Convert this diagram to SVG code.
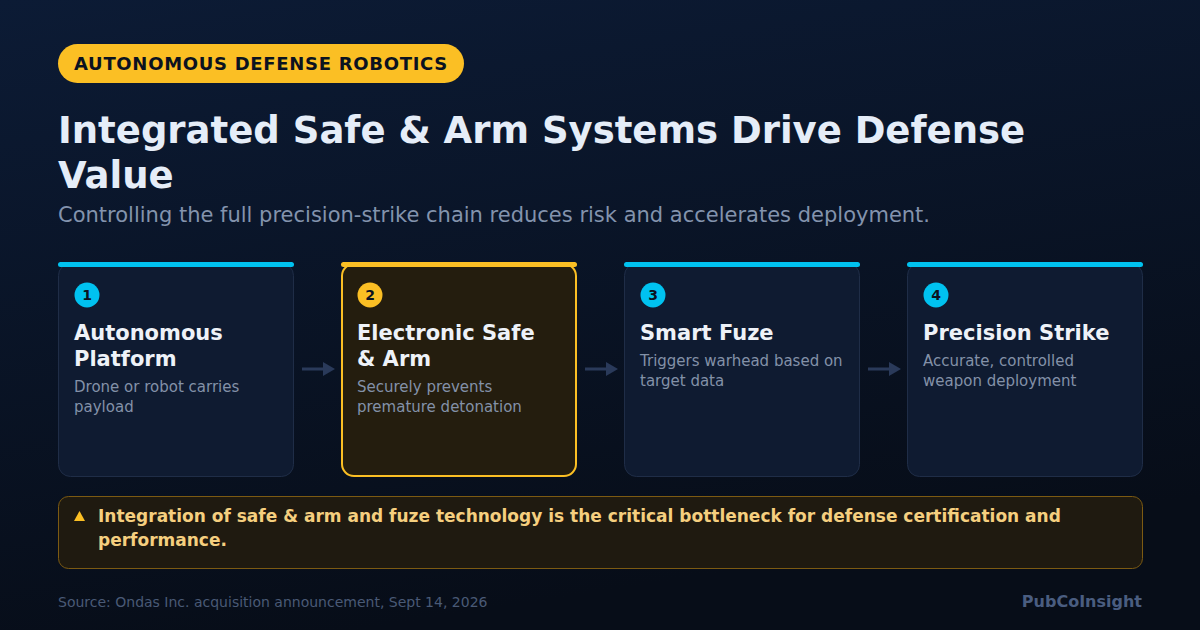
<svg xmlns="http://www.w3.org/2000/svg" width="1200" height="630" viewBox="0 0 1200 630">
<defs>
<linearGradient id="bg" x1="0" y1="0" x2="0.3" y2="1">
<stop offset="0" stop-color="#0c1b35"/>
<stop offset="1" stop-color="#070d18"/>
</linearGradient>
<marker id="ah" viewBox="0 0 12 14" refX="0" refY="7" markerWidth="12" markerHeight="14" markerUnits="userSpaceOnUse" orient="auto">
<path d="M0,0 L12,7 L0,14 Z" fill="#2a3a5a"/>
</marker>
</defs>
<style>
text{font-family:"DejaVu Sans","Liberation Sans",sans-serif}
.card{fill:#0f1b31;stroke:#1f2d47;stroke-width:1}
.hl{fill:#241d0e;stroke:#fbbf24;stroke-width:2}
.bar{fill:#00c2f0}
.num{font-size:14px;font-weight:bold;fill:#0b1220;text-anchor:middle}
.ct{font-size:21px;font-weight:bold;fill:#eef2f8}
.cd{font-size:15px;fill:#8391a8}
.conn{stroke:#2a3a5a;stroke-width:3;fill:none}
</style>
<rect width="1200" height="630" fill="url(#bg)"/>
<g id="badge">
<rect x="58" y="44" width="406" height="39" rx="19.5" fill="#fbbf24"/>
<text x="74" y="70" font-size="18" font-weight="bold" fill="#0b1220" letter-spacing="0.7">AUTONOMOUS DEFENSE ROBOTICS</text>
</g>
<g id="header">
<text x="58" y="143" font-size="37" font-weight="bold" fill="#e5edf8">Integrated Safe &amp; Arm Systems Drive Defense</text>
<text x="58" y="188" font-size="37" font-weight="bold" fill="#e5edf8">Value</text>
<text x="58" y="222" font-size="21" fill="#8393ad">Controlling the full precision-strike chain reduces risk and accelerates deployment.</text>
</g>
<g id="connectors">
<line class="conn" x1="302" y1="369" x2="323" y2="369" marker-end="url(#ah)"/>
<line class="conn" x1="585" y1="369" x2="606" y2="369" marker-end="url(#ah)"/>
<line class="conn" x1="868" y1="369" x2="889" y2="369" marker-end="url(#ah)"/>
</g>
<g id="node1">
<rect class="card" x="58.5" y="263.5" width="235" height="213" rx="12"/>
<rect class="bar" x="58" y="262" width="236" height="5" rx="2.5"/>
<circle cx="87" cy="295" r="12.5" fill="#00c2f0"/>
<text class="num" x="87" y="300">1</text>
<text class="ct" x="74" y="340">Autonomous</text>
<text class="ct" x="74" y="366">Platform</text>
<text class="cd" x="74" y="392">Drone or robot carries</text>
<text class="cd" x="74" y="412">payload</text>
</g>
<g id="node2">
<rect class="hl" x="342" y="264" width="234" height="212" rx="12"/>
<rect x="341" y="262" width="236" height="5" rx="2.5" fill="#fbbf24"/>
<circle cx="370" cy="295" r="12.5" fill="#fbbf24"/>
<text class="num" x="370" y="300">2</text>
<text class="ct" x="357" y="340">Electronic Safe</text>
<text class="ct" x="357" y="366">&amp; Arm</text>
<text class="cd" x="357" y="392">Securely prevents</text>
<text class="cd" x="357" y="412">premature detonation</text>
</g>
<g id="node3">
<rect class="card" x="624.5" y="263.5" width="235" height="213" rx="12"/>
<rect class="bar" x="624" y="262" width="236" height="5" rx="2.5"/>
<circle cx="653" cy="295" r="12.5" fill="#00c2f0"/>
<text class="num" x="653" y="300">3</text>
<text class="ct" x="640" y="340">Smart Fuze</text>
<text class="cd" x="640" y="366">Triggers warhead based on</text>
<text class="cd" x="640" y="386">target data</text>
</g>
<g id="node4">
<rect class="card" x="907.5" y="263.5" width="235" height="213" rx="12"/>
<rect class="bar" x="907" y="262" width="236" height="5" rx="2.5"/>
<circle cx="936" cy="295" r="12.5" fill="#00c2f0"/>
<text class="num" x="936" y="300">4</text>
<text class="ct" x="923" y="340">Precision Strike</text>
<text class="cd" x="923" y="366">Accurate, controlled</text>
<text class="cd" x="923" y="386">weapon deployment</text>
</g>
<g id="callout">
<rect x="58.5" y="496.5" width="1084" height="72" rx="10" fill="#1f1a10" stroke="#7c5a12"/>
<path d="M74,521 L79.5,511 L85,521 Z" fill="#fbbf24"/>
<text x="98" y="522" font-size="17" font-weight="bold" fill="#f5cf7f">Integration of safe &amp; arm and fuze technology is the critical bottleneck for defense certification and</text>
<text x="98" y="546" font-size="17" font-weight="bold" fill="#f5cf7f">performance.</text>
</g>
<g id="footer">
<text x="58" y="607" font-size="14" fill="#4a5a76">Source: Ondas Inc. acquisition announcement, Sept 14, 2026</text>
<text x="1142" y="607" font-size="16" font-weight="bold" fill="#4a5d80" text-anchor="end">PubCoInsight</text>
</g>
</svg>
